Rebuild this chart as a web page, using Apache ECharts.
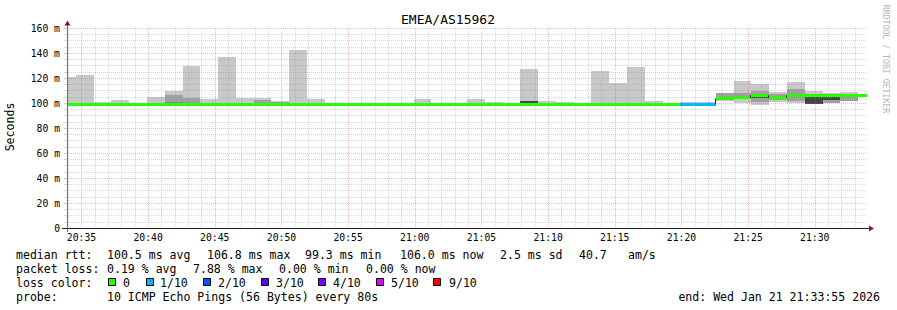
<!DOCTYPE html>
<html>
<head>
<meta charset="utf-8">
<script src="https://cdn.jsdelivr.net/npm/echarts@6/dist/echarts.min.js"></script>
<style>html,body{margin:0;padding:0;background:#fff}#c{width:897px;height:310px}</style>
</head>
<body>
<div id="c"></div>
<script>
// ---------------- data ----------------
const chartTitle = 'EMEA/AS15962';
const yAxisName = 'Seconds';
const watermark = 'RRDTOOL / TOBI OETIKER';
const viewStart = '20:33:55';
const viewEnd = '21:33:55';
const firstStepStart = '20:33:15';
const stepSeconds = 80;
const xTickLabels = ['20:35','20:40','20:45','20:50','20:55','21:00','21:05','21:10','21:15','21:20','21:25','21:30'];
const yTickLabels = ['0','20 m','40 m','60 m','80 m','100 m','120 m','140 m','160 m'];

// smoke (ms), one entry per 80 s step
const smokeLo = [99.2,99.2,99.2,99.2,99.2, 99.2,99.2,99.2,99.2,99.2,
                 99.2,99.2,99.2,99.2,99.2, 99.2,99.2,99.2,99.2,99.2,
                 99.2,99.2,99.2,99.2,99.2, 99.2,98.5,99.2,99.2,99.2,
                 99.2,99.2,99.2,99.2,99.2, 99.0,99.0,101.8,99.7,98.7,
                 101.0,100.0,99.4,99.7,101.6];
const smokeHi = [120.8,122.6,101.1,102.7,100.2, 105.1,109.9,129.9,103.5,137.1,
                 104.3,104.3,101.3,142.7,103.5, 100.2,100.2,100.2,100.2,100.2,
                 103.5,100.2,100.2,103.5,101.1, 100.2,127.5,101.9,101.1,100.2,
                 125.6,116.0,129.1,101.9,100.2, 101.0,100.5,108.0,117.6,115.2,
                 108.5,116.8,109.6,108.0,108.8];
// inner (denser) smoke bands
const midSteps = [6,7,11,12,37,38,39,40,41,42,43,44];
const midLo    = [99.3,99.3,99.3,99.3,102.5,103.0,100.5,102.5,102.0,100.5,99.7,101.6];
const midHi    = [106.7,104.3,102.7,101.2,107.7,107.7,109.6,107.5,111.2,107.5,107.5,107.5];
const darkSteps = [6,26,39,42,43];
const darkLo    = [100.3,100.3,103.8,99.4,102.3];
const darkHi    = [101.1,101.8,105.6,105.0,105.0];
const darkShade = [3,2,2,2,2];

// median rtt (ms) and lost pings (of 10) per step
const medianRtt = [99.5,99.5,99.5,99.5,99.5, 99.5,99.5,99.5,99.5,99.5,
                   99.5,99.5,99.5,99.5,99.5, 99.5,99.5,99.5,99.5,99.5,
                   99.5,99.5,99.5,99.5,99.5, 99.5,99.3,99.5,99.5,99.5,
                   99.5,99.5,99.5,99.5,99.5, 99.3,99.3,104.0,104.8,106.5,
                   104.6,106.5,106.3,106.3,106.3, 106.3];
const lostPings = [0,0,0,0,0, 0,0,0,0,0, 0,0,0,0,0, 0,0,0,0,0,
                   0,0,0,0,0, 0,0,0,0,0, 0,0,0,0,0, 0.79,0.07,0,0,0,
                   0,0,0,0,0, 0];

const lossLabels = ['0','1/10','2/10','3/10','4/10','5/10','9/10'];
const lossThresholds = [0,1,2,3,4,5,9];
const lossColors = ['#26ff00','#00b8ff','#0059ff','#5e00ff','#7e00ff','#dd00ff','#ff0000'];

const statLines = [
  [['median rtt:',16],['100.5 ms avg',107],['106.8 ms max',207],['99.3 ms min',305],['106.0 ms now',400],['2.5 ms sd',500],['40.7',579],['am/s',628]],
  [['packet loss:',16],['0.19 % avg',107],['7.88 % max',193],['0.00 % min',279],['0.00 % now',366]],
  [['loss color:',16]],
  [['probe:',16],['10 ICMP Echo Pings (56 Bytes) every 80s',107]]
];
const endText = 'end: Wed Jan 21 21:33:55 2026';

// ---------------- helpers ----------------
const FONT = "'DejaVu Sans Mono', monospace";
function hms(s){ const p = s.split(':').map(Number); return p[0]*3600 + p[1]*60 + (p[2]||0); }
const T0 = hms(viewStart), T1 = hms(viewEnd), S0 = hms(firstStepStart);
const stepStart = i => S0 + i*stepSeconds;
const majorTicks = xTickLabels.map(hms);
const minorTicks = [];
for (let t = Math.ceil(T0/60)*60; t <= T1; t += 60) if (majorTicks.indexOf(t) < 0) minorTicks.push(t);
function lossIndex(l){ if (l <= 0) return 0; for (let k = 1; k < lossThresholds.length; k++) if (l <= lossThresholds[k]) return k; return lossThresholds.length-1; }

const smokeColors = ['#c8c8c8','#a0a0a0','#454545','#858585'];
const smokeData = [];
smokeLo.forEach((v,i)=>smokeData.push([stepStart(i), stepStart(i)+stepSeconds, v, smokeHi[i], 0]));
midSteps.forEach((s,k)=>smokeData.push([stepStart(s), stepStart(s)+stepSeconds, midLo[k], midHi[k], 1]));
darkSteps.forEach((s,k)=>smokeData.push([stepStart(s), stepStart(s)+stepSeconds, darkLo[k], darkHi[k], darkShade[k]]));

const medianData = medianRtt.map((v,i)=>[stepStart(i), stepStart(i)+stepSeconds, v, i>0?medianRtt[i-1]:v, lossIndex(lostPings[i])]);

function clipBox(params){ const c = params.coordSys; return {x:c.x, y:c.y, width:c.width, height:c.height}; }

// ---------------- chart ----------------
const chart = echarts.init(document.getElementById('c'), null, {renderer:'svg'});
const gridMajor = 'rgba(222,79,79,0.40)';
const gridMinor = 'rgba(143,143,143,0.36)';

const legendGraphics = [];
statLines.forEach((line, r) => {
  const y = 254.5 + r*14;
  line.forEach(([txt, x]) => legendGraphics.push({type:'text', x:x, y:y, style:{text:txt, font:'11.55px '+FONT, fill:'#000', textAlign:'left', textVerticalAlign:'middle', align:'left', verticalAlign:'middle'}}));
});
const sqX = [108,146,203,261,318,376,433];
const lblX = [123,160,218,276,333,391,449];
lossLabels.forEach((l,k)=>{
  legendGraphics.push({type:'rect', shape:{x:sqX[k]+0.5, y:278.5, width:7, height:7}, style:{fill:lossColors[k], stroke:'#000', lineWidth:1}});
  legendGraphics.push({type:'text', x:lblX[k], y:282.5, style:{text:l, font:'11.55px '+FONT, fill:'#000', textAlign:'left', textVerticalAlign:'middle', align:'left', verticalAlign:'middle'}});
});
legendGraphics.push({type:'text', x:880, y:296.5, style:{text:endText, font:'11.55px '+FONT, fill:'#000', textAlign:'right', textVerticalAlign:'middle', align:'right', verticalAlign:'middle'}});

chart.setOption({
  animation:false,
  backgroundColor:'#ffffff',
  grid:{left:67, top:28, width:800, height:200},
  xAxis:[{
    type:'value', min:T0, max:T1, position:'bottom',
    axisLine:{show:true, lineStyle:{color:'#1f1f1f', width:1}},
    axisTick:{show:false, customValues:majorTicks},
    axisLabel:{customValues:majorTicks, margin:4, fontFamily:FONT, fontSize:9.75, color:'#000',
      formatter:v=>{ const k = majorTicks.indexOf(v); return k>=0 ? xTickLabels[k] : ''; }},
    splitLine:{show:true, lineStyle:{color:gridMajor, width:1, type:[1,1]}}
  },{
    type:'value', min:T0, max:T1, position:'bottom',
    axisLine:{show:false}, axisLabel:{show:false, customValues:minorTicks},
    axisTick:{show:false, customValues:minorTicks},
    splitLine:{show:true, lineStyle:{color:gridMinor, width:1, type:[1,1]}}
  }],
  yAxis:{
    type:'value', min:0, max:160, interval:20,
    axisLine:{show:true, lineStyle:{color:'#707070', width:1}},
    axisTick:{show:true, length:3, lineStyle:{color:gridMajor}},
    minorTick:{show:true, splitNumber:4, length:3, lineStyle:{color:gridMinor}},
    axisLabel:{margin:7, fontFamily:FONT, fontSize:9.75, color:'#000', formatter:v=>yTickLabels[Math.round(v/20)]},
    splitLine:{show:true, lineStyle:{color:gridMajor, width:1, type:[1,1]}},
    minorSplitLine:{show:true, lineStyle:{color:gridMinor, width:1, type:[1,1]}}
  },
  series:[{
    type:'custom', z:-1, xAxisIndex:0, data:smokeData, encode:{x:[0,1], y:[2,3]},
    renderItem:(params, api)=>{
      const a = api.coord([api.value(0), api.value(3)]);
      const b = api.coord([api.value(1), api.value(2)]);
      const x0 = Math.round(a[0]), x1 = Math.round(b[0]), y0 = Math.round(a[1]), y1 = Math.round(b[1]);
      const r = echarts.graphic.clipRectByRect({x:x0, y:y0, width:x1-x0, height:y1-y0}, clipBox(params));
      if (!r) return null;
      return {type:'rect', shape:r, style:{fill:smokeColors[api.value(4)]}};
    }
  },{
    type:'custom', z:3, xAxisIndex:0, data:medianData, encode:{x:[0,1], y:2},
    renderItem:(params, api)=>{
      const a = api.coord([api.value(0), api.value(2)]);
      const b = api.coord([api.value(1), api.value(2)]);
      const p = api.coord([api.value(0), api.value(3)]);
      const yc = Math.round(a[1]);
      const x0 = Math.round(a[0]), x1 = Math.round(b[0]);
      const box = clipBox(params);
      const children = [];
      if (Math.abs(Math.round(p[1]) - yc) > 1 && x0 >= box.x) {
        children.push({type:'line', shape:{x1:x0-0.5, y1:Math.round(p[1])+0.5, x2:x0-0.5, y2:yc+0.5}, style:{stroke:'#202020', lineWidth:1}});
      }
      const r = echarts.graphic.clipRectByRect({x:x0, y:yc-1, width:x1-x0, height:3}, box);
      if (r) children.push({type:'rect', shape:r, style:{fill:lossColors[api.value(4)]}});
      return {type:'group', children:children};
    }
  }],
  graphic:[
    {type:'text', x:448, y:19, style:{text:chartTitle, font:'13px '+FONT, fill:'#000', textAlign:'center', textVerticalAlign:'middle', align:'center', verticalAlign:'middle'}},
    {type:'text', x:10, y:127, rotation:Math.PI/2, style:{text:yAxisName, font:'11.55px '+FONT, fill:'#000', textAlign:'center', textVerticalAlign:'middle', align:'center', verticalAlign:'middle'}},
    {type:'text', x:886, y:59, rotation:-Math.PI/2, style:{text:watermark, font:'8.2px '+FONT, fill:'#b8b8b8', textAlign:'center', textVerticalAlign:'middle', align:'center', verticalAlign:'middle'}},
    {type:'line', shape:{x1:62, y1:228.5, x2:869, y2:228.5}, style:{stroke:'#1f1f1f', lineWidth:1}, z:10},
    {type:'line', shape:{x1:67.5, y1:24, x2:67.5, y2:232}, style:{stroke:'#707070', lineWidth:1}, z:10},
    {type:'polygon', shape:{points:[[64.5,25.5],[70.5,25.5],[67.5,20.5]]}, style:{fill:'#801f1f'}, z:11},
    {type:'polygon', shape:{points:[[869,225.5],[869,231.5],[874,228.5]]}, style:{fill:'#801f1f'}, z:11}
  ].concat(legendGraphics)
});
</script>
</body>
</html>
